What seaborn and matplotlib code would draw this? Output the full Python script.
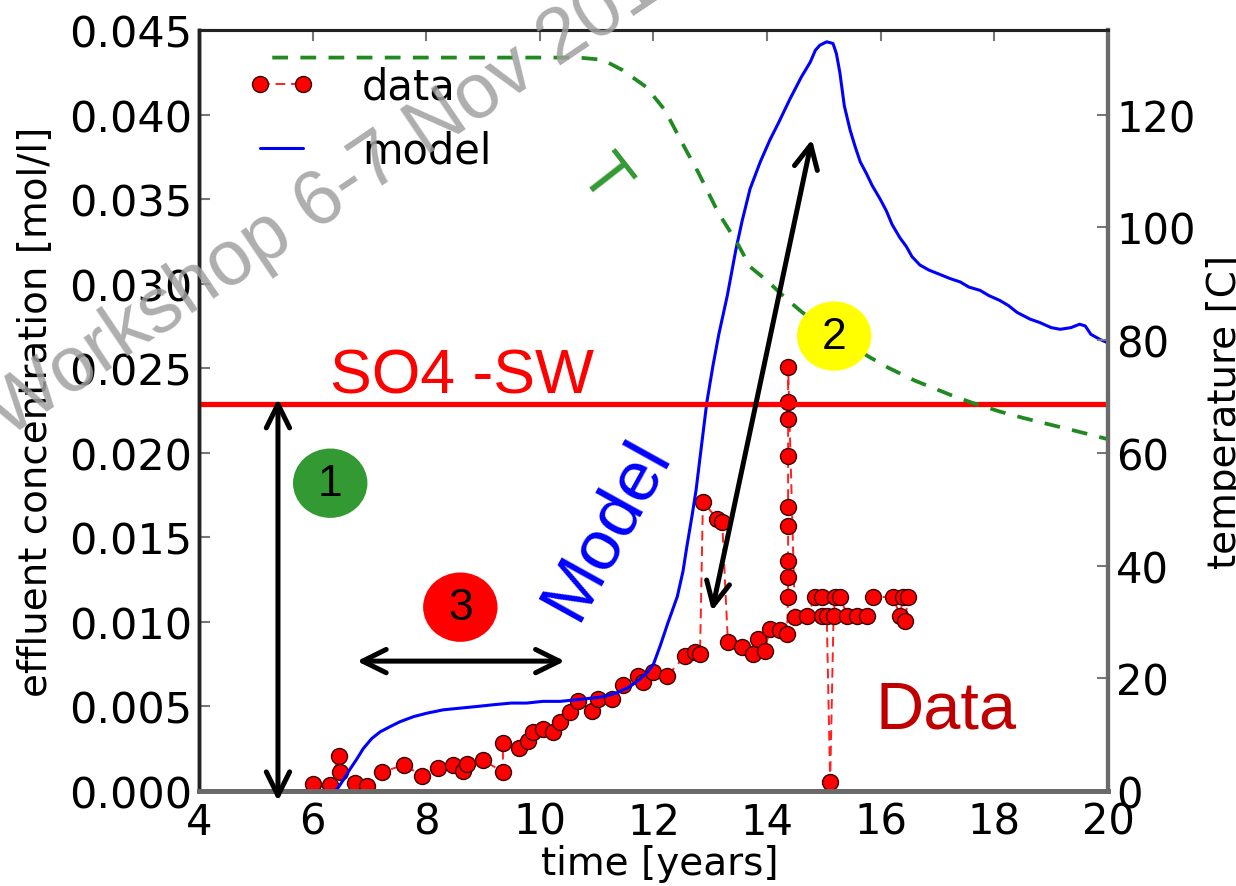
import matplotlib
matplotlib.use("Agg")
import matplotlib.pyplot as plt
from matplotlib.patches import Ellipse
import pandas as pd
import seaborn as sns

# ---- measured effluent SO4 concentration [mol/l] vs time [years]
data_years = [6.01, 6.31, 6.46, 6.48, 6.75, 6.96, 7.22, 7.61, 7.93, 8.21,
              8.47, 8.65, 8.72, 9.00, 9.35, 9.35, 9.63, 9.79, 9.88, 10.06,
              10.23, 10.36, 10.53, 10.67, 10.92, 11.02, 11.27, 11.46, 11.73, 11.82,
              11.99, 12.24, 12.56, 12.73, 12.82, 12.87, 13.12, 13.21, 13.31, 13.56,
              13.75, 13.84, 13.96, 14.05, 14.23, 14.35,
              14.37, 14.37, 14.37, 14.37, 14.37, 14.37, 14.37, 14.37, 14.37,
              14.49, 14.70, 14.85, 14.97, 14.97, 15.05, 15.11, 15.17, 15.20, 15.29,
              15.41, 15.58, 15.76, 15.87, 16.22, 16.34, 16.39, 16.43, 16.48]
data_conc = [0.00041, 0.00035, 0.00207, 0.00112, 0.00047, 0.00030, 0.00112, 0.00154, 0.00089, 0.00136,
             0.00154, 0.00118, 0.00160, 0.00183, 0.00112, 0.00284, 0.00254, 0.00296, 0.00349, 0.00366,
             0.00349, 0.00408, 0.00467, 0.00532, 0.00473, 0.00544, 0.00544, 0.00626, 0.00680, 0.00644,
             0.00703, 0.00680, 0.00800, 0.00820, 0.00810, 0.01710, 0.01610, 0.01590, 0.00880, 0.00850,
             0.00810, 0.00900, 0.00830, 0.00960, 0.00950, 0.00930,
             0.01147, 0.01265, 0.01360, 0.01566, 0.01678, 0.01980, 0.02200, 0.02300, 0.02506,
             0.01028, 0.01034, 0.01147, 0.01147, 0.01034, 0.01034, 0.00053, 0.01034, 0.01147, 0.01147,
             0.01034, 0.01034, 0.01034, 0.01147, 0.01147, 0.01034, 0.01147, 0.01005, 0.01147]

# ---- simulated effluent concentration [mol/l]
model_years = [5.20, 6.40, 6.45, 6.55, 6.66, 6.78, 6.89, 7.04, 7.19, 7.36,
               7.54, 7.78, 8.01, 8.30, 8.60, 8.90, 9.18, 9.50, 9.77, 10.05,
               10.36, 10.65, 10.94, 11.15, 11.35, 11.55, 11.72, 11.89, 12.00, 12.12,
               12.25, 12.42, 12.52, 12.59, 12.68, 12.75, 12.83, 12.94, 13.05, 13.15,
               13.30, 13.45, 13.56, 13.70, 13.88, 14.05, 14.20, 14.40, 14.60, 14.76,
               14.85, 14.93, 15.05, 15.16, 15.22, 15.28, 15.36, 15.46, 15.55, 15.64,
               15.75, 15.85, 15.99, 16.10, 16.20, 16.34, 16.45, 16.55, 16.69, 16.85,
               17.00, 17.22, 17.40, 17.55, 17.75, 17.90, 18.10, 18.25, 18.40, 18.63,
               18.80, 19.00, 19.16, 19.35, 19.50, 19.60, 19.70, 19.86, 20.00]
model_conc = [0.0000, 0.0000, 0.0002, 0.0007, 0.0013, 0.0019, 0.0025, 0.0031, 0.0035, 0.0038,
              0.0041, 0.0044, 0.0046, 0.0048, 0.0049, 0.0050, 0.0051, 0.0052, 0.0052, 0.0053,
              0.0053, 0.0054, 0.0055, 0.0056, 0.0058, 0.0061, 0.0065, 0.0070, 0.0075, 0.0086,
              0.0099, 0.0115, 0.0130, 0.0145, 0.0163, 0.0178, 0.0200, 0.0230, 0.0252, 0.0270,
              0.0293, 0.0320, 0.0337, 0.0356, 0.0372, 0.0385, 0.0395, 0.0409, 0.0422, 0.0431,
              0.0438, 0.0441, 0.0443, 0.0442, 0.0436, 0.0425, 0.0405, 0.0391, 0.0381, 0.0372,
              0.0365, 0.0358, 0.0350, 0.0343, 0.0335, 0.0327, 0.0322, 0.0316, 0.0311, 0.0308,
              0.0306, 0.0303, 0.0301, 0.0298, 0.0296, 0.0293, 0.0290, 0.0287, 0.0283, 0.0279,
              0.0277, 0.0274, 0.0273, 0.0274, 0.0276, 0.0275, 0.0270, 0.0267, 0.0265]

# ---- temperature [C]
temp_years = [5.29, 7.00, 9.00, 10.69, 11.11, 11.45, 11.87, 12.20, 12.54, 12.79,
              13.14, 13.47, 13.70, 14.00, 14.35, 14.62, 15.00, 15.40, 15.78, 16.13,
              16.60, 17.22, 17.60, 18.10, 18.50, 18.98, 19.50, 20.00]
temp_vals = [130.1, 130.1, 130.1, 130.1, 129.7, 127.9, 124.9, 120.8, 114.3, 109.7,
             102.6, 97.3, 93.0, 90.5, 87.2, 84.9, 82.3, 79.6, 77.1, 75.1,
             72.8, 70.3, 68.9, 67.3, 66.2, 65.0, 63.7, 62.4]

so4_seawater = 0.0229

x_ticks = [4, 6, 8, 10, 12, 14, 16, 18, 20]
y_ticks = [0.000, 0.005, 0.010, 0.015, 0.020, 0.025, 0.030, 0.035, 0.040, 0.045]
t_ticks = [0, 20, 40, 60, 80, 100, 120]

data_df = pd.DataFrame({"time": data_years, "conc": data_conc})
model_df = pd.DataFrame({"time": model_years, "conc": model_conc})
temp_df = pd.DataFrame({"time": temp_years, "T": temp_vals})

sns.set_theme(style="white")
plt.rcParams["font.family"] = ["DejaVu Sans"]
plt.rcParams["text.color"] = "black"
plt.rcParams["axes.labelcolor"] = "black"
plt.rcParams["xtick.color"] = "black"
plt.rcParams["ytick.color"] = "black"
HELV = ["Liberation Sans", "DejaVu Sans"]

fig = plt.figure(figsize=(12.36, 8.87), dpi=100)
ax = fig.add_axes([0.161, 0.1071, 0.7354, 0.858])

sns.lineplot(data=data_df, x="time", y="conc", ax=ax, sort=False, estimator=None,
             color="#ff2020", lw=1.4, linestyle=(0, (5, 3)), marker="o", markersize=11.5,
             markerfacecolor="red", markeredgecolor="#3a0000", markeredgewidth=1.0,
             legend=False, zorder=3)
sns.lineplot(data=model_df, x="time", y="conc", ax=ax, sort=False, estimator=None,
             color="blue", lw=2.2, legend=False, zorder=4)
ax.axhline(so4_seawater, color="red", lw=3.8, zorder=5)

ax.set_xlim(4, 20)
ax.set_ylim(0, 0.045)
ax.set_xticks(x_ticks)
ax.set_yticks(y_ticks)
ax.set_yticklabels([f"{v:.3f}" for v in y_ticks])
ax.set_xlabel("time [years]", fontsize=28)
ax.set_ylabel("effluent concentration [mol/l]", fontsize=28)
ax.xaxis.set_label_coords(0.507, -0.07)
ax.yaxis.set_label_coords(-0.158, 0.5)
ax.tick_params(axis="both", direction="in", length=8, width=1.5, color="#777777",
               labelcolor="black", top=True, right=False, labelsize=30)
ax.tick_params(axis="x", pad=7)
ax.tick_params(axis="y", pad=5, labelsize=31)

# temperature on a second y axis
ax2 = ax.twinx()
sns.lineplot(data=temp_df, x="time", y="T", ax=ax2, sort=False, estimator=None,
             color="#1f8a1f", lw=2.7, linestyle=(0, (4.2, 3.3)), legend=False)
ax2.set_ylim(0, 135)
ax2.set_yticks(t_ticks)
ax2.set_ylabel("temperature [C]", fontsize=28, color="black")
ax2.yaxis.set_label_coords(1.108, 0.5)
ax2.tick_params(axis="y", direction="in", length=8, width=1.5, color="#777777",
                labelcolor="black", labelsize=30, pad=6)

for a in (ax, ax2):
    a.spines["top"].set_color("#222222")
    a.spines["left"].set_color("#222222")
    a.spines["top"].set_linewidth(2.2)
    a.spines["left"].set_linewidth(2.5)
    a.spines["bottom"].set_color("#6a6a6a")
    a.spines["right"].set_color("#6a6a6a")
    a.spines["bottom"].set_linewidth(3.5)
    a.spines["right"].set_linewidth(3.0)

handles = [ax.lines[0], ax.lines[1]]
leg = ax.legend(handles, ["data", "model"], loc="upper left", bbox_to_anchor=(0.053, 0.953),
                frameon=False, fontsize=30, numpoints=2, handlelength=1.65,
                handletextpad=1.1, labelspacing=0.52, borderpad=0, borderaxespad=0)
for t in leg.get_texts():
    t.set_color("black")

# annotations drawn in concentration coordinates
ax2.text(6.31, 0.02358, "SO4 -SW", transform=ax.transData, color="red",
         fontsize=45, family=HELV, ha="left", va="baseline", zorder=6)
ax2.text(11.17, 0.0155, "Model", transform=ax.transData, color="blue",
         fontsize=51, family=HELV, ha="center", va="center", rotation=61, zorder=6)
ax2.text(15.9, 0.00378, "Data", transform=ax.transData, color="#c00000",
         fontsize=48, family=HELV, ha="left", va="baseline", zorder=6)
ax2.text(11.12, 0.0362, "T", transform=ax.transData, color="#339933",
         fontsize=46, family=HELV, ha="center", va="center", rotation=-52, zorder=6)

markers = [(6.31, 0.0182, "1", "#339933"),
           (15.18, 0.0269, "2", "#ffff00"),
           (8.60, 0.01087, "3", "#ff0000")]
for x, y, lab, col in markers:
    ax2.add_patch(Ellipse((x, y), 1.31, 0.00410, transform=ax.transData,
                          facecolor=col, edgecolor="none", zorder=7))
    ax2.text(x, y, lab, transform=ax.transData, fontsize=32, family=HELV,
             color="black", ha="center", va="center", zorder=8)

arrow_kw = dict(arrowstyle="<->,head_length=0.85,head_width=0.42", lw=3.6,
                color="black", mutation_scale=20, shrinkA=0, shrinkB=0)
ax2.annotate("", xy=(5.39, -0.0006), xytext=(5.39, 0.0232),
             xycoords=ax.transData, textcoords=ax.transData,
             arrowprops=arrow_kw, annotation_clip=False, zorder=9)
ax2.annotate("", xy=(13.03, 0.01064), xytext=(14.79, 0.03853),
             xycoords=ax.transData, textcoords=ax.transData,
             arrowprops=arrow_kw, zorder=9)
ax2.annotate("", xy=(6.78, 0.00768), xytext=(10.44, 0.00768),
             xycoords=ax.transData, textcoords=ax.transData,
             arrowprops=arrow_kw, zorder=9)

# watermark across the upper left
fig.text(0.006, 0.505, "Workshop 6-7 Nov 2014", rotation=34, rotation_mode="anchor",
         ha="left", va="baseline", fontsize=56, family=HELV, color="#a0a0a0",
         alpha=0.85, zorder=20)

fig.savefig("out.png", dpi=100)
